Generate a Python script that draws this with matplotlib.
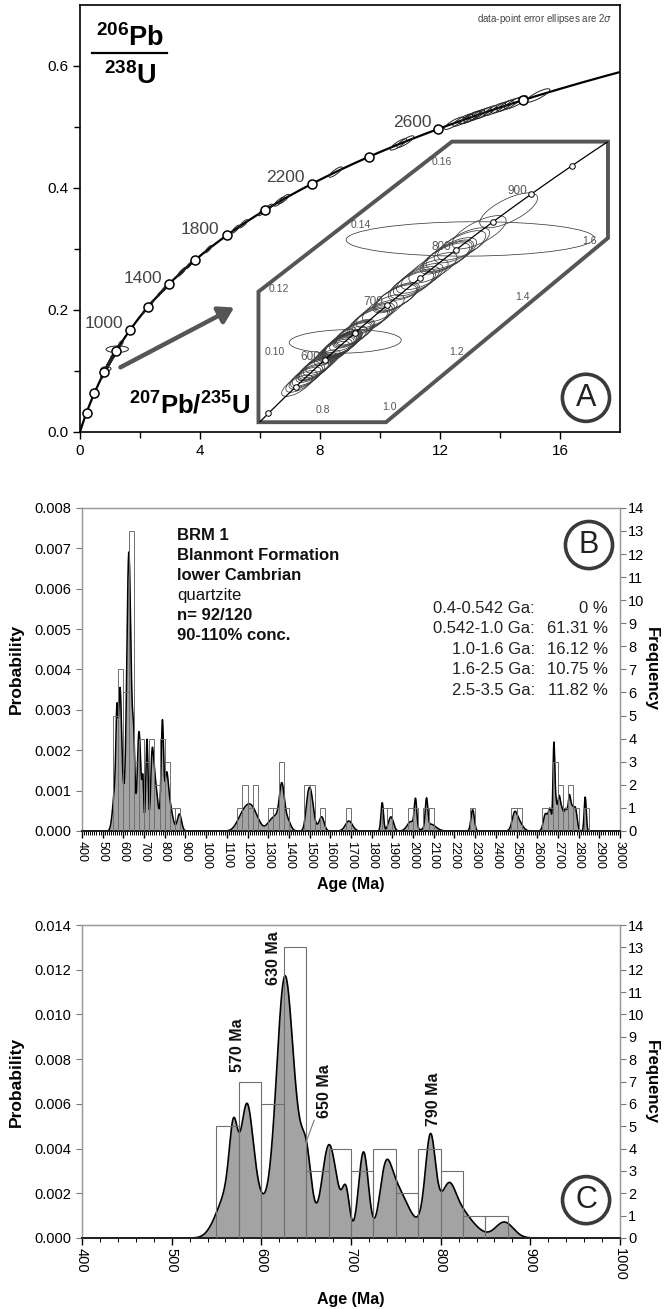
import numpy as np
import matplotlib
matplotlib.use('Agg')
import matplotlib.pyplot as plt
from matplotlib.patches import Ellipse, Polygon
from matplotlib.ticker import MultipleLocator, FormatStrFormatter
import matplotlib.transforms as mtransforms

plt.rcParams['font.family'] = ['Liberation Sans', 'DejaVu Sans']
plt.rcParams['mathtext.fontset'] = 'custom'
plt.rcParams['mathtext.rm'] = 'Liberation Sans'
plt.rcParams['mathtext.bf'] = 'Liberation Sans:bold'

# ---------------- data ----------------
# detrital zircon ages (Ma) and 1-sigma uncertainties (Ma)
young_age = [552, 560, 566, 569, 572,
             579, 582, 583, 585, 588, 592, 597,
             612, 616, 619, 621, 623, 624,
             625.5, 626, 627, 628, 629, 630, 631, 632, 634, 639, 645, 647, 649,
             651, 670, 673,
             677, 680, 684, 694.5,
             712, 714, 716,
             736, 739, 744, 749,
             756, 768,
             785, 788, 790, 794,
             806, 811, 820,
             832,
             871]
young_sig = [9, 7, 5, 4, 5,
             7, 6, 6, 6, 7, 8, 9,
             8, 8, 7, 7, 7, 7,
             7.5, 7.5, 7.5, 7.5, 7.5, 7.5, 7.5, 7.5, 8, 8, 8, 8, 9,
             5, 7, 6,
             7, 7, 8, 4,
             5.5, 5, 5.5,
             6, 6.5, 7, 9,
             8, 10,
             6, 5, 5, 7,
             7, 7, 9,
             12,
             10]
old_age = [1160, 1185, 1195, 1212, 1232, 1245,
           1312, 1340, 1362, 1366, 1370, 1392,
           1488, 1497, 1508, 1515, 1558,
           1690, 1851, 1893, 1990, 2012, 2065, 2085, 2288, 2490,
           2510, 2640, 2662, 2679, 2682, 2690, 2705, 2718, 2738, 2755, 2768, 2785, 2832]
old_sig = [22, 20, 22, 18, 20, 25,
           18, 15, 11, 11, 12, 15,
           10, 10, 10, 14, 12,
           17, 6, 12, 18, 6, 6, 25, 8, 12,
           18, 10, 8, 4, 4, 6, 6, 8, 8, 6, 8, 8, 5]

# 1-sigma relative errors (%) of 207Pb/235U and 206Pb/238U and error correlation
young_ell = (3.2, 1.9, 0.7)
old_ell = (1.3, 1.0, 0.85)
ell_override = {634: (9.7, 1.8, 0.1), 820: (15.0, 2.0, 0.05)}

concordia_marks = [200, 400, 600, 800, 1000, 1200, 1400, 1600, 1800, 2000,
                   2200, 2400, 2600, 2800]
concordia_labels = [1000, 1400, 1800, 2200, 2600]
inset_marks = [500, 550, 600, 650, 700, 750, 800, 850, 900, 950]
inset_labels = [600, 700, 800, 900]
inset_xvals = [0.8, 1.0, 1.2, 1.4, 1.6]
inset_yvals = [0.10, 0.12, 0.14, 0.16]

range_labels = ['0.4-0.542 Ga:', '0.542-1.0 Ga:', '1.0-1.6 Ga:', '1.6-2.5 Ga:', '2.5-3.5 Ga:']
range_values = ['0 %', '61.31 %', '16.12 %', '10.75 %', '11.82 %']
sample_lines = [('BRM 1', 'bold'), ('Blanmont Formation', 'bold'), ('lower Cambrian', 'bold'),
                ('quartzite', 'normal'), ('n= 92/120', 'bold'), ('90-110% conc.', 'bold')]
peak_labels = [(573, 0.00863, '570 Ma'), (613.6, 0.01252, '630 Ma'), (792.5, 0.00622, '790 Ma')]

L238 = 1.55125e-4
L235 = 9.8485e-4

def r68(t):
    return np.exp(L238 * np.asarray(t, float)) - 1

def r75(t):
    return np.exp(L235 * np.asarray(t, float)) - 1

all_age = np.array(young_age + old_age, float)
all_sig = np.array(young_sig + old_sig, float)
yng = np.array(young_age, float)
ysg = np.array(young_sig, float)

def ell_par(age):
    key = int(round(age))
    if key in ell_override:
        return ell_override[key]
    return young_ell if age < 1000 else old_ell

# ---------------- figure ----------------
fig = plt.figure(figsize=(6.67, 13.09), dpi=100)
axA = fig.add_axes([0.1199, 0.6700, 0.8096, 0.3262])
axB = fig.add_axes([0.1229, 0.3652, 0.8066, 0.2468])
axC = fig.add_axes([0.1229, 0.05424, 0.8066, 0.2391])

def circled(ax, x, y, s):
    ax.text(x, y, s, transform=ax.transAxes, ha='center', va='center', fontsize=22,
            color='#222', zorder=20,
            bbox=dict(boxstyle='circle,pad=0.28', fc='white', ec='#3a3a3a', lw=2.6))

def add_ellipse(ax, t, e75, e68, rho, transform, lw, color, clip=None):
    x, y = float(r75(t)), float(r68(t))
    sx, sy = x * e75 / 100, y * e68 / 100
    cov = np.array([[sx * sx, rho * sx * sy], [rho * sx * sy, sy * sy]])
    vals, vecs = np.linalg.eigh(cov)
    ang = np.degrees(np.arctan2(vecs[1, 1], vecs[0, 1]))
    w, h = 2 * 2 * np.sqrt(vals[1]), 2 * 2 * np.sqrt(vals[0])
    e = Ellipse((x, y), w, h, angle=ang, fc='none', ec=color, lw=lw,
                transform=transform, zorder=6)
    ax.add_patch(e)
    if clip is not None:
        e.set_clip_path(clip)
    return e

# ---------------- panel A ----------------
axA.set_xlim(0, 18)
axA.set_ylim(0, 0.7)
axA.set_xticks([0, 4, 8, 12, 16])
axA.set_xticks([2, 6, 10, 14], minor=True)
axA.set_yticks([0, 0.2, 0.4, 0.6])
axA.set_yticks([0.1, 0.3, 0.5], minor=True)
axA.yaxis.set_major_formatter(FormatStrFormatter('%.1f'))
axA.tick_params(labelsize=11, length=5, width=1, direction='out')
axA.tick_params(which='minor', length=4, width=1, direction='out')
for s in axA.spines.values():
    s.set_linewidth(1.2)

tt = np.linspace(0, 3100, 800)
axA.plot(r75(tt), r68(tt), color='k', lw=1.6, zorder=2)
for age in all_age:
    e75, e68, rho = ell_par(age)
    add_ellipse(axA, age, e75, e68, rho, axA.transData, 0.7, '#222')
axA.plot(r75(concordia_marks), r68(concordia_marks), 'o', ms=6.5, mfc='white',
         mec='k', mew=1.1, zorder=7)
for a in concordia_labels:
    axA.annotate(str(a), (float(r75(a)), float(r68(a))), xytext=(-7, 6),
                 textcoords='offset pixels', ha='right', va='center',
                 fontsize=12.5, color='#444', zorder=8)

# inset (skewed zoom of the young part of the concordia)
poly_verts = [(5.95, 0.016), (10.2, 0.016), (17.6, 0.318), (17.6, 0.476),
              (12.4, 0.476), (5.95, 0.230)]
poly = Polygon(poly_verts, closed=True, fc='white', ec='#555555', lw=2.8, zorder=5)
axA.add_patch(poly)
A0, B0, X0, Y0, SX, SY = 1.1985, 0.1321, 12.52, 0.298, 11.1, 5.2
inner = mtransforms.Affine2D().translate(-A0, -B0).scale(SX, SY).translate(X0, Y0)
itr = inner + axA.transData
ti = np.linspace(450, 1000, 300)
ln, = axA.plot(r75(ti), r68(ti), color='k', lw=0.9, transform=itr, zorder=7)
ln.set_clip_path(poly)
for age in yng:
    e75, e68, rho = ell_par(age)
    add_ellipse(axA, age, e75, e68, rho, itr, 0.55, '#3c3c3c', clip=poly)
mk, = axA.plot(r75(inset_marks), r68(inset_marks), 'o', ms=4, mfc='white', mec='k',
               mew=0.7, transform=itr, zorder=8)
mk.set_clip_path(poly)
for a in inset_labels:
    px = X0 + SX * (float(r75(a)) - A0)
    py = Y0 + SY * (float(r68(a)) - B0)
    axA.annotate(str(a), (px, py), xytext=(-4, 3), textcoords='offset pixels',
                 ha='right', va='center', fontsize=8.5, color='#555', zorder=9)

def lower_y(x):
    return 0.016 if x <= 10.2 else 0.016 + (x - 10.2) * (0.302 / 7.4)

def left_x(y):
    return 5.95 if y <= 0.230 else 5.95 + (y - 0.230) / (0.246 / 6.45)

for v in inset_xvals:
    px = X0 + SX * (v - A0)
    axA.text(px, lower_y(px) + 0.02, f'{v:.1f}', ha='center', va='center',
             fontsize=7.5, color='#555', zorder=9)
for v in inset_yvals:
    py = Y0 + SY * (v - B0)
    axA.text(left_x(py) + 0.2, py, f'{v:.2f}', ha='left', va='center',
             fontsize=7.5, color='#555', zorder=9)

axA.annotate('', xy=(5.14, 0.204), xytext=(1.35, 0.106),
             arrowprops=dict(arrowstyle='-|>,head_length=0.9,head_width=0.55',
                             lw=3.2, color='#555555', shrinkA=0, shrinkB=0), zorder=9)

axA.text(0.093, 0.922, r'$\mathbf{^{206}Pb}$', transform=axA.transAxes, ha='center',
         va='center', fontsize=19.5, zorder=9)
axA.plot([0.022, 0.162], [0.888, 0.888], color='k', lw=1.6, transform=axA.transAxes,
         zorder=9, clip_on=False)
axA.text(0.093, 0.833, r'$\mathbf{^{238}U}$', transform=axA.transAxes, ha='center',
         va='center', fontsize=19.5, zorder=9)
axA.text(0.203, 0.063, r'$\mathbf{^{207}Pb/^{235}U}$', transform=axA.transAxes,
         ha='center', va='center', fontsize=18.5, zorder=9)
axA.text(0.985, 0.967, r'data-point error ellipses are 2$\sigma$', transform=axA.transAxes,
         ha='right', va='center', fontsize=7, color='#444', zorder=9)
circled(axA, 0.937, 0.08, 'A')

# ---------------- histogram panels ----------------
FILL = '#a3a3a3'

def style_hist_axes(ax, ax2, ymax, ystep, xmin, xmax, major, minor, xlab_size):
    ax.set_xlim(xmin, xmax)
    ax.set_ylim(0, ymax)
    ax.set_yticks(np.arange(0, ymax + ystep / 2, ystep))
    ax.yaxis.set_major_formatter(FormatStrFormatter('%.3f'))
    ax.xaxis.set_major_locator(MultipleLocator(major))
    ax.xaxis.set_minor_locator(MultipleLocator(minor))
    ax.tick_params(axis='x', labelsize=xlab_size, labelrotation=-90, length=5,
                   direction='out', width=1, pad=2)
    ax.tick_params(axis='x', which='minor', length=3, width=0.7, direction='out')
    ax.tick_params(axis='y', labelsize=10.5, length=4, direction='out', color='#777')
    ax2.set_ylim(0, 14)
    ax2.set_yticks(range(0, 15))
    ax2.tick_params(axis='y', labelsize=10.5, length=4, direction='out', color='#777',
                    pad=2)
    for a in (ax, ax2):
        for k in ('left', 'right', 'top'):
            a.spines[k].set_color('#999999')
            a.spines[k].set_linewidth(0.9)
        a.spines['bottom'].set_color('#222')
        a.spines['bottom'].set_linewidth(1.3)
    ax.set_ylabel('Probability', fontsize=12.5, fontweight='bold', labelpad=8)
    ax2.text(1.058, 0.5, 'Frequency', transform=ax2.transAxes, rotation=-90,
             ha='center', va='center', fontsize=12, fontweight='bold')

# panel B
axB2 = axB.twinx()
style_hist_axes(axB, axB2, 0.008, 0.001, 400, 3000, 100, 10, 9)
xB = np.arange(400, 3000.5, 1.0)
pdpB = (np.exp(-0.5 * ((xB[:, None] - all_age) / all_sig) ** 2) /
        (all_sig * np.sqrt(2 * np.pi))).sum(1) / len(all_age)
axB.fill_between(xB, 0, pdpB, color=FILL, lw=0, zorder=1)
axB.plot(xB, pdpB, color='k', lw=1.1, zorder=2)
binsB = np.arange(400, 3001, 25)
cntB, _ = np.histogram(all_age, binsB)
m = cntB > 0
axB2.bar(binsB[:-1][m], cntB[m], width=25, align='edge', facecolor='none',
         edgecolor='#6f6f6f', lw=0.7, zorder=3)
axB.set_xlabel('Age (Ma)', fontsize=11.5, fontweight='bold', labelpad=6)
y0 = 0.913
for i, (s, w) in enumerate(sample_lines):
    axB.text(0.1766, y0 - i * 0.0613, s, transform=axB.transAxes, ha='left',
             va='center', fontsize=12, fontweight=w, color='#111')
for i, (lab, val) in enumerate(zip(range_labels, range_values)):
    yy = 0.690 - i * 0.0635
    axB.text(0.842, yy, lab, transform=axB.transAxes, ha='right', va='center',
             fontsize=12, color='#222')
    axB.text(0.978, yy, val, transform=axB.transAxes, ha='right', va='center',
             fontsize=12, color='#222')
circled(axB2, 0.9424, 0.885, 'B')

# panel C
axC2 = axC.twinx()
style_hist_axes(axC, axC2, 0.014, 0.002, 400, 1000, 100, 20, 10.5)
xC = np.arange(400, 1000.5, 0.5)
pdpC = (np.exp(-0.5 * ((xC[:, None] - yng) / ysg) ** 2) /
        (ysg * np.sqrt(2 * np.pi))).sum(1) / len(yng)
axC.fill_between(xC, 0, pdpC, color=FILL, lw=0, zorder=1)
axC.plot(xC, pdpC, color='k', lw=1.2, zorder=2)
binsC = np.arange(400, 1001, 25)
cntC, _ = np.histogram(yng, binsC)
m = cntC > 0
axC2.bar(binsC[:-1][m], cntC[m], width=25, align='edge', facecolor='none',
         edgecolor='#6f6f6f', lw=0.8, zorder=3)
axC.set_xlabel('Age (Ma)', fontsize=11.5, fontweight='bold', labelpad=8)
for x, y, s in peak_labels:
    axC.text(x, y, s, rotation=90, ha='center', va='center', fontsize=11.5,
             fontweight='bold', color='#111', zorder=5)
axC.annotate('650 Ma', xy=(650, 0.0043), xytext=(671, 0.00657), rotation=90,
             ha='center', va='center', fontsize=11.5, fontweight='bold', color='#111',
             arrowprops=dict(arrowstyle='-', color='#777', lw=0.8, shrinkA=1, shrinkB=0),
             zorder=5)
circled(axC2, 0.937, 0.121, 'C')

fig.savefig('out.png', dpi=100)
